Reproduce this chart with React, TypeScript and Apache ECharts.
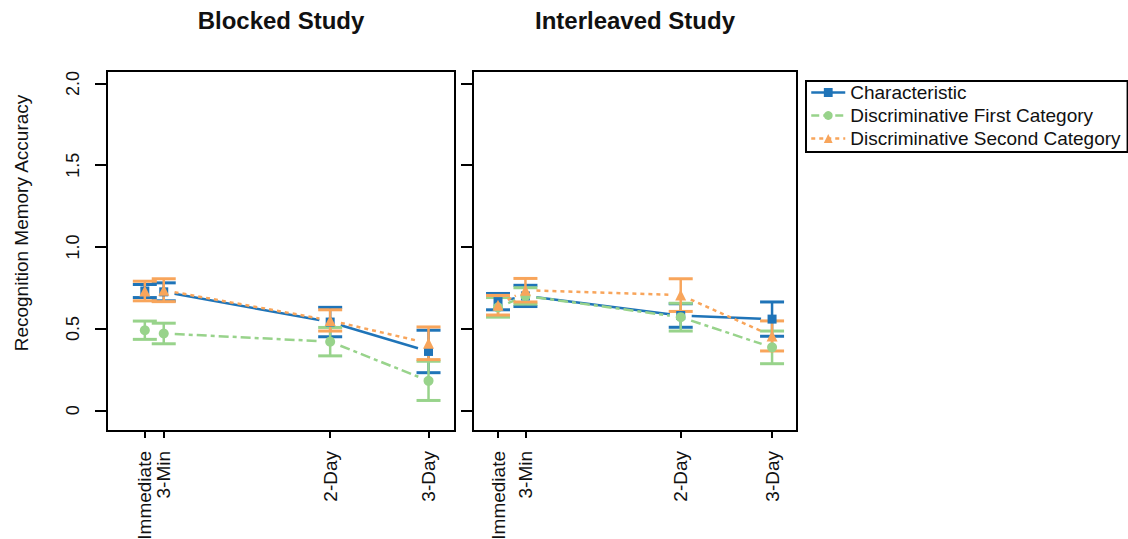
import React, { useEffect, useRef } from "react";
import * as echarts from "echarts";

const timeLabels = ["Immediate", "3-Min", "2-Day", "3-Day"];
const blockedX = [0, 0.2, 1.96, 3];
const interleavedX = [0, 0.3, 2, 3];

const seriesNames = [
  "Characteristic",
  "Discriminative First Category",
  "Discriminative Second Category",
];

const blockedCharacteristic = [0.73, 0.725, 0.54, 0.36];
const blockedCharacteristicErr = [0.04, 0.055, 0.09, 0.13];
const blockedFirst = [0.49, 0.47, 0.42, 0.18];
const blockedFirstErr = [0.056, 0.063, 0.087, 0.12];
const blockedSecond = [0.73, 0.735, 0.55, 0.41];
const blockedSecondErr = [0.06, 0.07, 0.065, 0.1];

const interleavedCharacteristic = [0.665, 0.7, 0.58, 0.558];
const interleavedCharacteristicErr = [0.05, 0.065, 0.072, 0.105];
const interleavedFirst = [0.63, 0.7, 0.57, 0.385];
const interleavedFirstErr = [0.06, 0.05, 0.085, 0.1];
const interleavedSecond = [0.643, 0.735, 0.705, 0.455];
const interleavedSecondErr = [0.06, 0.072, 0.1, 0.092];

const yTicks = [0, 0.5, 1, 1.5, 2];
const yTickLabels = ["0", "0.5", "1.0", "1.5", "2.0"];

const COLORS = ["#1f74b8", "#98d38b", "#f8a55b"];
const DASHES: (number[] | null)[] = [null, [10, 4, 4, 4], [4, 4]];
const LEGEND_TYPES = ["solid", [8, 4], [4, 4]];
const SYMBOLS = ["rect", "circle", "triangle"];
const SYMBOL_SIZES = [9, 10, 11];
const FONT = "'Liberation Sans', Arial, Helvetica, sans-serif";

function nearestIndex(arr: number[], v: number) {
  let best = 0;
  for (let i = 1; i < arr.length; i++) {
    if (Math.abs(arr[i] - v) < Math.abs(arr[best] - v)) best = i;
  }
  return best;
}

export default function App() {
  const ref = useRef<HTMLDivElement>(null);

  useEffect(() => {
    if (!ref.current) return;
    const chart = echarts.init(ref.current, null, { renderer: "svg" });

    const panels = [
      {
        xs: blockedX,
        ys: [blockedCharacteristic, blockedFirst, blockedSecond],
        errs: [blockedCharacteristicErr, blockedFirstErr, blockedSecondErr],
      },
      {
        xs: interleavedX,
        ys: [interleavedCharacteristic, interleavedFirst, interleavedSecond],
        errs: [interleavedCharacteristicErr, interleavedFirstErr, interleavedSecondErr],
      },
    ];

    const series: any[] = [];
    panels.forEach((panel, p) => {
      panel.ys.forEach((ys, s) => {
        const errs = panel.errs[s];
        const xs = panel.xs;
        series.push({
          type: "custom",
          name: "err-" + p + "-" + s,
          xAxisIndex: p,
          yAxisIndex: p,
          z: 2 + s,
          silent: true,
          data: xs.map((x, i) => [x, ys[i], errs[i]]),
          renderItem: (params: any, api: any) => {
            const i = params.dataIndex;
            const x = api.value(0);
            const y = api.value(1);
            const e = api.value(2);
            const c = api.coord([x, y]);
            const lo = api.coord([x, y - e]);
            const hi = api.coord([x, y + e]);
            const color = COLORS[s];
            const hw = 12;
            const children: any[] = [
              {
                type: "line",
                shape: { x1: lo[0], y1: lo[1], x2: hi[0], y2: hi[1] },
                style: { stroke: color, lineWidth: 2.5 },
              },
              {
                type: "line",
                shape: { x1: lo[0] - hw, y1: lo[1], x2: lo[0] + hw, y2: lo[1] },
                style: { stroke: color, lineWidth: 3 },
              },
              {
                type: "line",
                shape: { x1: hi[0] - hw, y1: hi[1], x2: hi[0] + hw, y2: hi[1] },
                style: { stroke: color, lineWidth: 3 },
              },
            ];
            if (i < xs.length - 1) {
              const n = api.coord([xs[i + 1], ys[i + 1]]);
              const dx = n[0] - c[0];
              const dy = n[1] - c[1];
              const len = Math.sqrt(dx * dx + dy * dy);
              const gap = 11;
              if (len > 2 * gap) {
                const ux = dx / len;
                const uy = dy / len;
                const style: any = { stroke: color, lineWidth: 2.5 };
                if (DASHES[s]) style.lineDash = DASHES[s];
                children.push({
                  type: "line",
                  shape: {
                    x1: c[0] + ux * gap,
                    y1: c[1] + uy * gap,
                    x2: n[0] - ux * gap,
                    y2: n[1] - uy * gap,
                  },
                  style,
                });
              }
            }
            return { type: "group", children };
          },
        });
      });
    });
    panels.forEach((panel, p) => {
      panel.ys.forEach((ys, s) => {
        series.push({
          type: "line",
          name: seriesNames[s],
          xAxisIndex: p,
          yAxisIndex: p,
          z: 10,
          data: panel.xs.map((x, i) => [x, ys[i]]),
          symbol: SYMBOLS[s],
          symbolSize: SYMBOL_SIZES[s],
          showSymbol: true,
          itemStyle: { color: COLORS[s], opacity: 1 },
          lineStyle: { color: COLORS[s], width: 2.5, opacity: 0 },
          emphasis: { disabled: true },
        });
      });
    });

    const xAxisFor = (xs: number[], min: number, max: number, idx: number) => ({
      type: "value",
      gridIndex: idx,
      position: "bottom",
      min,
      max,
      axisLine: { show: false, onZero: false },
      splitLine: { show: false },
      axisTick: {
        show: true,
        length: 7,
        customValues: xs,
        lineStyle: { color: "#000", width: 2 },
      },
      axisLabel: {
        show: true,
        customValues: xs,
        rotate: 90,
        margin: 20,
        fontSize: 19,
        fontFamily: FONT,
        color: "#111",
        formatter: (v: number) => timeLabels[nearestIndex(xs, v)],
      },
    });

    const yAxisFor = (idx: number, showLabel: boolean) => ({
      type: "value",
      gridIndex: idx,
      position: "left",
      min: -0.127,
      max: 2.077,
      axisLine: { show: false, onZero: false },
      splitLine: { show: false },
      axisTick: {
        show: true,
        length: 12,
        customValues: yTicks,
        lineStyle: { color: "#000", width: 2 },
      },
      axisLabel: {
        show: showLabel,
        customValues: yTicks,
        rotate: 90,
        margin: 25,
        fontSize: 18,
        fontFamily: FONT,
        color: "#111",
        formatter: (v: number) => yTickLabels[nearestIndex(yTicks, v)],
      },
    });

    const option: any = {
      animation: false,
      backgroundColor: "#ffffff",
      grid: [
        {
          left: 107,
          top: 71,
          width: 348,
          height: 360,
          show: true,
          borderColor: "#000",
          borderWidth: 2,
          backgroundColor: "#fff",
          containLabel: false,
          outerBoundsMode: "none",
        },
        {
          left: 473,
          top: 71,
          width: 324,
          height: 360,
          show: true,
          borderColor: "#000",
          borderWidth: 2,
          backgroundColor: "#fff",
          containLabel: false,
          outerBoundsMode: "none",
        },
      ],
      xAxis: [xAxisFor(blockedX, -0.4, 3.28, 0), xAxisFor(interleavedX, -0.274, 3.273, 1)],
      yAxis: [yAxisFor(0, true), yAxisFor(1, false)],
      legend: {
        show: true,
        orient: "vertical",
        left: 806,
        top: 81,
        padding: [2, 7, 4, 4],
        itemWidth: 34,
        itemHeight: 11,
        itemGap: 4,
        borderColor: "#000",
        borderWidth: 2,
        backgroundColor: "#fff",
        selectedMode: false,
        textStyle: { fontSize: 19, fontFamily: FONT, color: "#111" },
        data: seriesNames.map((name, s) => ({
          name,
          lineStyle: {
            color: COLORS[s],
            width: 2.5,
            type: LEGEND_TYPES[s],
            opacity: 1,
          },
        })),
      },
      graphic: [
        {
          type: "text",
          x: 281,
          y: 20,
          style: {
            text: "Blocked Study",
            textAlign: "center",
            textVerticalAlign: "middle",
            font: "bold 24px " + FONT,
            fill: "#111",
          },
        },
        {
          type: "text",
          x: 635,
          y: 20,
          style: {
            text: "Interleaved Study",
            textAlign: "center",
            textVerticalAlign: "middle",
            font: "bold 24px " + FONT,
            fill: "#111",
          },
        },
        {
          type: "text",
          x: 21,
          y: 223,
          rotation: Math.PI / 2,
          style: {
            text: "Recognition Memory Accuracy",
            textAlign: "center",
            textVerticalAlign: "middle",
            font: "19px " + FONT,
            fill: "#111",
          },
        },
      ],
      series,
    };

    chart.setOption(option);
    return () => {
      chart.dispose();
    };
  }, []);

  return (
    <div
      ref={ref}
      style={{
        position: "absolute",
        left: 0,
        top: 0,
        width: 1128,
        height: 539,
        background: "#fff",
      }}
    />
  );
}
